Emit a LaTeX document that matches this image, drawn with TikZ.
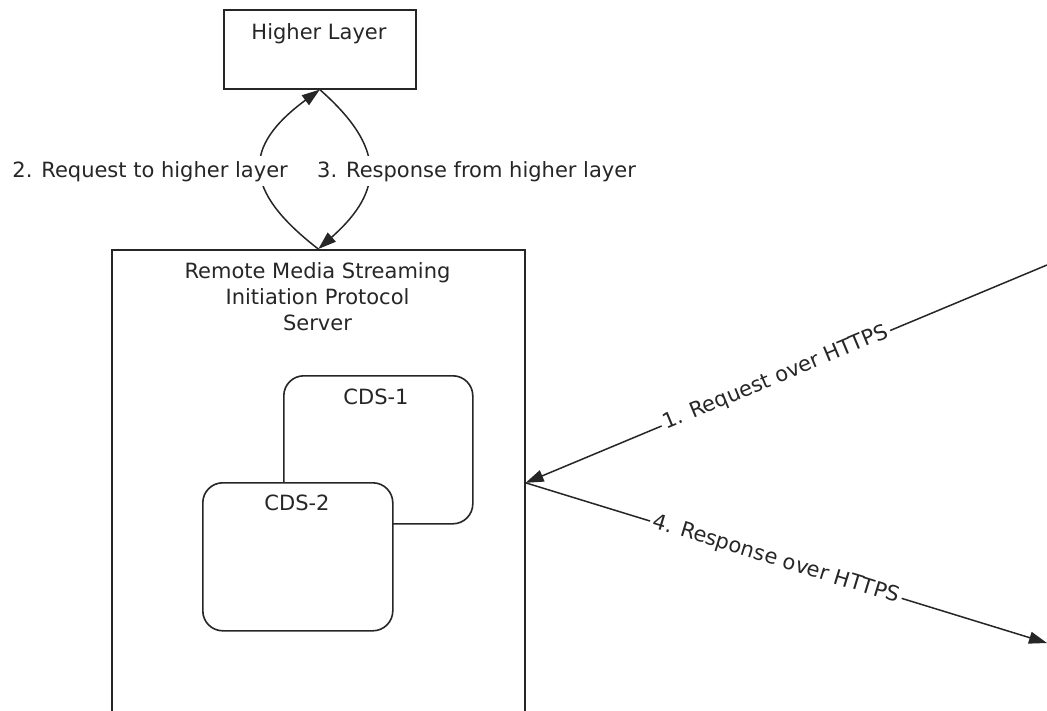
\documentclass[tikz,border=0pt]{standalone}
\usepackage{fontspec}
\setmainfont{DejaVu Sans}
\usetikzlibrary{arrows.meta}
\begin{document}
\begin{tikzpicture}[x=1pt,y=-1pt,
  box/.style={draw=black!85, line width=1.6pt, fill=white, inner sep=0pt},
  rbox/.style={box, rounded corners=20pt},
  txt/.style={text=black!85, font=\fontsize{21}{26}\selectfont, inner sep=0pt},
  conn/.style={draw=black!85, line width=1.5pt},
  tip/.style={-{Triangle[length=18pt,width=12pt]}},
  lbl/.style={txt, fill=white, inner xsep=3pt, inner ysep=5pt}]
\clip (0,0) rectangle (1047,710);
\fill[white] (0,0) rectangle (1047,710);
% Higher layer
\node[box, anchor=north west, minimum width=192pt, minimum height=79pt] (hl) at (223,9) {};
\node[txt, anchor=base] (hlt) at (319,39) {Higher Layer};
% Server
\node[box, anchor=north west, minimum width=413pt, minimum height=466pt] (srv) at (111,249) {};
\node[txt, anchor=north, align=center] (srvt) at (317.5,262) {Remote Media Streaming\\Initiation Protocol\\Server};
% CDS boxes
\node[rbox, anchor=north west, minimum width=189pt, minimum height=148pt] (cds1) at (283,375) {};
\node[txt, anchor=base] (cds1t) at (376,404) {CDS-1};
\node[rbox, anchor=north west, minimum width=190pt, minimum height=148pt] (cds2) at (202,482) {};
\node[txt, anchor=base] (cds2t) at (297,510) {CDS-2};
% arcs
\draw[conn, tip] (srv.north) .. controls (242,190) and (242,147) .. (hl.south);
\draw[conn, tip] (hl.south) .. controls (385,147) and (385,190) .. (srv.north);
\node[lbl, anchor=base east] (l2) at (291,177) {2. Request to higher layer};
\node[lbl, anchor=base west] (l3) at (314,177) {3. Response from higher layer};
% HTTPS lines
\coordinate (c1) at (1047,265);
\coordinate (c4) at (1047,643);
\draw[conn, tip] (c1) -- node[lbl, sloped, pos=0.52, inner ysep=2pt] (l1) {1. Request over HTTPS} (srv.east);
\draw[conn, tip] (srv.east) -- node[lbl, sloped, pos=0.48, inner ysep=2pt] (l4) {4. Response over HTTPS} (c4);
\end{tikzpicture}
\end{document}
